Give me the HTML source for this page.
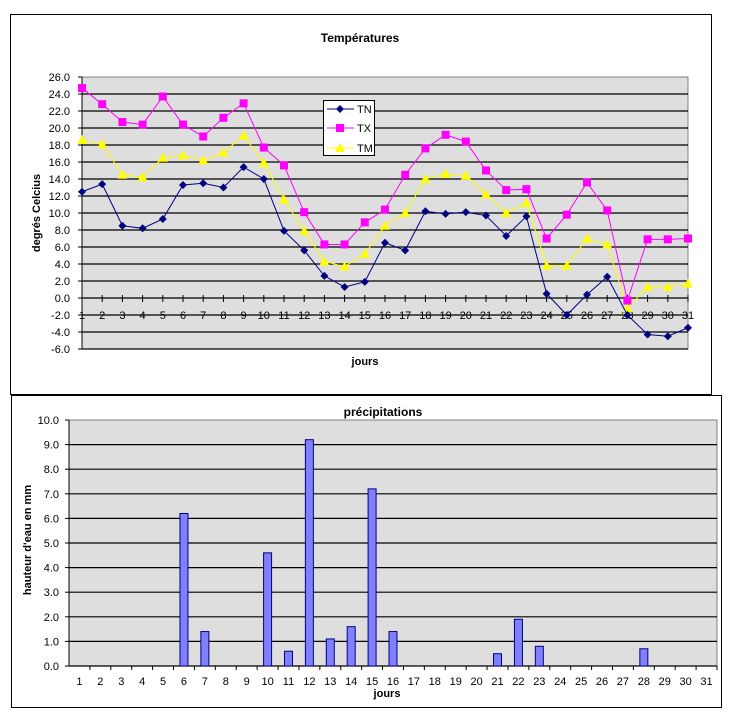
<!DOCTYPE html>
<html><head><meta charset="utf-8"><style>
body{margin:0;background:#fff;width:739px;height:721px;overflow:hidden}
svg{display:block;font-family:"Liberation Sans",Arial,sans-serif}
</style></head><body>
<svg id="s" width="739" height="721" viewBox="0 0 739 721" xmlns="http://www.w3.org/2000/svg">
<rect x="0" y="0" width="739" height="721" fill="#fff"/>
<rect x="10.5" y="14.5" width="701" height="380" fill="#fff" stroke="#000"/>
<rect x="11.5" y="395.5" width="710" height="312" fill="#fff" stroke="#000"/>
<text x="360" y="42" font-size="12" font-weight="bold" text-anchor="middle">Températures</text>
<text x="383" y="416" font-size="12" font-weight="bold" text-anchor="middle">précipitations</text>
<text x="365" y="365" font-size="11" font-weight="bold" text-anchor="middle">jours</text>
<text x="387" y="697" font-size="11" font-weight="bold" text-anchor="middle">jours</text>
<text transform="translate(40,213) rotate(-90)" font-size="11" font-weight="bold" text-anchor="middle">degrés Celcius</text>
<text transform="translate(31,540) rotate(-90)" font-size="11" font-weight="bold" text-anchor="middle">hauteur d'eau en mm</text>
<g id="g1"></g>
<g id="g2"></g>
</svg>
<script>
var NS="http://www.w3.org/2000/svg";
function el(p,t,a,txt){var e=document.createElementNS(NS,t);for(var k in a)e.setAttribute(k,a[k]);if(txt!=null)e.textContent=txt;p.appendChild(e);return e;}
var g1=document.getElementById('g1'),g2=document.getElementById('g2');
// top chart
var L=82,R=688,T=77,B=349,y0=298,sy=8.5,sx=20.2;
el(g1,'rect',{x:L,y:T,width:R-L,height:B-T,fill:'#dedede',stroke:'#808080'});
for(var v=-6;v<=26;v+=2){var y=y0-sy*v;
 if(v<26) el(g1,'line',{x1:L,x2:R,y1:y,y2:y,stroke:'#000','stroke-width':1.2});
 el(g1,'line',{x1:L-4,x2:L,y1:y,y2:y,stroke:'#000'});
 el(g1,'text',{x:L-12,y:y+4,'font-size':11,'text-anchor':'end'},v.toFixed(1));}
el(g1,'line',{x1:L,x2:L,y1:T,y2:B,stroke:'#000'});
for(var i=1;i<=31;i++){var x=L+sx*(i-1);
 el(g1,'line',{x1:x,x2:x,y1:y0-3,y2:y0+4,stroke:'#000'});
 el(g1,'text',{x:x,y:319,'font-size':11,'text-anchor':'middle'},String(i));}
var TN=[12.5,13.4,8.5,8.2,9.3,13.3,13.5,13.0,15.4,14.0,7.9,5.6,2.6,1.3,1.9,6.5,5.6,10.2,9.9,10.1,9.7,7.3,9.6,0.5,-2.0,0.4,2.5,-2.0,-4.3,-4.5,-3.5];
var TX=[24.7,22.8,20.7,20.4,23.7,20.4,19.0,21.2,22.9,17.7,15.6,10.1,6.3,6.3,8.9,10.4,14.5,17.6,19.2,18.4,15.0,12.7,12.8,7.0,9.8,13.6,10.3,-0.3,6.9,6.9,7.0];
var TM=[18.6,18.1,14.5,14.2,16.5,16.8,16.2,17.1,19.1,15.9,11.6,7.9,4.3,3.7,5.2,8.5,10.0,14.0,14.6,14.4,12.2,10.0,11.2,3.8,3.8,7.0,6.3,-1.2,1.3,1.3,1.7];
function mk(p,x,y,t,c){
 if(t==0) el(p,'polygon',{points:(x)+','+(y-4)+' '+(x+4)+','+y+' '+x+','+(y+4)+' '+(x-4)+','+y,fill:c});
 else if(t==1) el(p,'rect',{x:x-4,y:y-4,width:8,height:8,fill:c});
 else el(p,'polygon',{points:x+','+(y-5)+' '+(x+5)+','+(y+4)+' '+(x-5)+','+(y+4),fill:c});}
function series(d,c,t){var pts=d.map(function(v,i){return (L+sx*i)+','+(y0-sy*v)}).join(' ');
 el(g1,'polyline',{points:pts,fill:'none',stroke:c,'stroke-width':1});
 d.forEach(function(v,i){mk(g1,L+sx*i,y0-sy*v,t,c)});}
series(TM,'#ffff00',2);series(TX,'#ff00ff',1);series(TN,'#000080',0);
// legend
el(g1,'rect',{x:323.5,y:100.5,width:51,height:55,fill:'#fff',stroke:'#000'});
[['TN','#000080',0,109],['TX','#ff00ff',1,128],['TM','#ffff00',2,148]].forEach(function(r){
 el(g1,'line',{x1:327,x2:354,y1:r[3],y2:r[3],stroke:r[1]});mk(g1,340,r[3],r[2],r[1]);
 el(g1,'text',{x:357,y:r[3]+4,'font-size':11},r[0]);});
// bottom chart
var L2=69,R2=717,T2=420,B2=666,s2=24.6,w2=(R2-L2)/31;
el(g2,'rect',{x:L2,y:T2,width:R2-L2,height:B2-T2,fill:'#dedede',stroke:'#808080'});
for(var v=0;v<=10;v++){var y=B2-s2*v;
 if(v<10) el(g2,'line',{x1:L2,x2:R2,y1:y,y2:y,stroke:'#000','stroke-width':1.2});
 el(g2,'line',{x1:L2-4,x2:L2,y1:y,y2:y,stroke:'#000'});
 el(g2,'text',{x:L2-10,y:y+4,'font-size':11,'text-anchor':'end'},v.toFixed(1));}
el(g2,'line',{x1:L2,x2:L2,y1:T2,y2:B2,stroke:'#000'});
var P={6:6.2,7:1.4,10:4.6,11:0.6,12:9.2,13:1.1,14:1.6,15:7.2,16:1.4,21:0.5,22:1.9,23:0.8,28:0.7};
for(var i=1;i<=31;i++){var cx=L2+w2*(i-0.5);
 el(g2,'line',{x1:L2+w2*i,x2:L2+w2*i,y1:B2,y2:B2+4,stroke:'#000'});
 el(g2,'text',{x:cx,y:685,'font-size':11,'text-anchor':'middle'},String(i));
 if(P[i]){var h=P[i]*s2;el(g2,'rect',{x:cx-4,y:B2-h,width:8,height:h,fill:'#8080ff',stroke:'#000080','stroke-width':1});}}
</script>
</body></html>
